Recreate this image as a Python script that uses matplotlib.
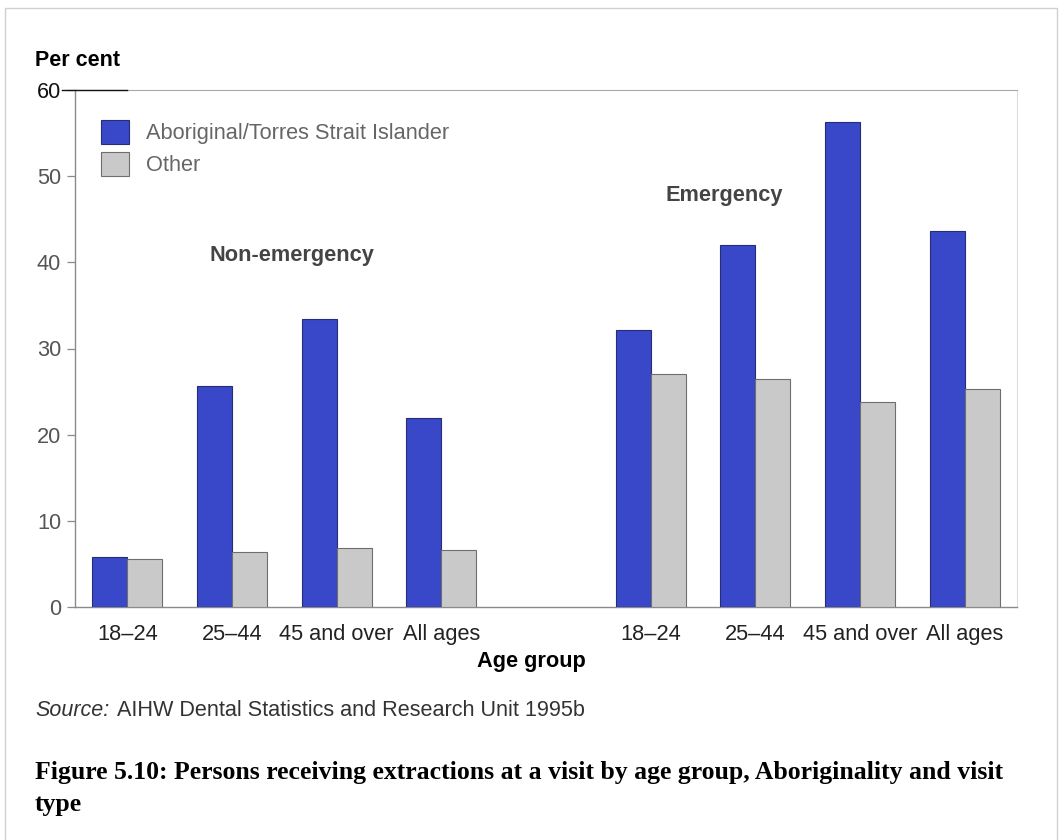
import numpy as np
import matplotlib.pyplot as plt
from matplotlib.patches import Rectangle

age_groups = ["18\u201324", "25\u201344", "45 and over", "All ages"]
visit_types = ["Non-emergency", "Emergency"]
aboriginal_non_emerg = [5.8, 25.7, 33.4, 21.9]
other_non_emerg = [5.6, 6.4, 6.8, 6.6]
aboriginal_emerg = [32.2, 42.0, 56.3, 43.6]
other_emerg = [27.0, 26.5, 23.8, 25.3]
series_names = ["Aboriginal/Torres Strait Islander", "Other"]
y_ticks = [0, 10, 20, 30, 40, 50, 60]

plt.rcParams['font.family'] = ['Liberation Sans', 'DejaVu Sans']

BLUE = '#3848c8'
BLUE_EDGE = '#262c78'
GREY = '#c9c9c9'
GREY_EDGE = '#6e6e6e'
AXIS_GREY = '#8a8a8a'
TEXT_GREY = '#555555'
FS = 15.7

W, H = 1062, 840
fig = plt.figure(figsize=(W / 100, H / 100), dpi=100)
ax = fig.add_axes([75 / W, 1 - 607 / H, (1017 - 75) / W, (607 - 90) / H])

# x positions: two blocks of four groups separated by an empty slot
pos_non = np.arange(4)
pos_emg = np.arange(4) + 5
w = 0.335

ab_all = aboriginal_non_emerg + aboriginal_emerg
ot_all = other_non_emerg + other_emerg
pos_all = np.concatenate([pos_non, pos_emg])

ax.bar(pos_all - w / 2, ab_all, width=w, color=BLUE, edgecolor=BLUE_EDGE,
       linewidth=0.8, label=series_names[0], zorder=3)
ax.bar(pos_all + w / 2, ot_all, width=w, color=GREY, edgecolor=GREY_EDGE,
       linewidth=0.8, label=series_names[1], zorder=3)

ax.set_xlim(-0.5, 8.5)
ax.set_ylim(0, 60)
ax.set_yticks(y_ticks)
ax.set_yticklabels([str(t) for t in y_ticks], fontsize=FS, color=TEXT_GREY)
ax.get_yticklabels()[-1].set_color('#111111')
ax.set_xticks(pos_all)
ax.set_xticklabels(age_groups * 2, fontsize=FS, color='#222222')
ax.tick_params(axis='x', length=0, pad=12)
ax.tick_params(axis='y', length=6, width=0.9, color=AXIS_GREY, pad=4)

for side in ['left', 'bottom']:
    ax.spines[side].set_color(AXIS_GREY)
    ax.spines[side].set_linewidth(1.0)
ax.spines['top'].set_color('#a8a8a8')
ax.spines['top'].set_linewidth(0.8)
ax.spines['right'].set_color('#dddddd')
ax.spines['right'].set_linewidth(0.8)

# dark lead-in on the top rule at 60
ax.plot([-0.62, 0.0], [60, 60], color='#111111', lw=1.0, clip_on=False, zorder=5)

fig.text(531 / W, 1 - 662 / H, "Age group", fontsize=FS, fontweight='bold',
         ha='center', va='center')
fig.text(35 / W, 1 - 60 / H, "Per cent", fontsize=15.5, fontweight='bold',
         va='center', ha='left')

ax.text(1.568, 40.85, visit_types[0], fontsize=FS, fontweight='bold',
        color='#444444', ha='center', va='center')
ax.text(5.705, 47.7, visit_types[1], fontsize=FS, fontweight='bold',
        color='#444444', ha='center', va='center')

leg = ax.legend(loc='upper left', bbox_to_anchor=(101 / W, 1 - 120 / H),
                bbox_transform=fig.transFigure, frameon=False,
                fontsize=FS, handlelength=1.3, handleheight=1.3,
                labelspacing=0.35, handletextpad=0.75,
                borderpad=0, borderaxespad=0)
for t in leg.get_texts():
    t.set_color('#666666')

# source line
fig.text(35 / W, 1 - 710 / H, "Source:", fontsize=15.5, style='italic',
         color='#333333', va='center', ha='left')
fig.text(117 / W, 1 - 710 / H, "AIHW Dental Statistics and Research Unit 1995b",
         fontsize=15.6, color='#333333', va='center', ha='left')

# figure caption
serif = ['Liberation Serif', 'DejaVu Serif']
fig.text(35 / W, 1 - 773 / H,
         "Figure 5.10: Persons receiving extractions at a visit by age group, Aboriginality and visit",
         fontsize=18.5, fontweight='bold', va='center', ha='left', family=serif)
fig.text(35 / W, 1 - 805 / H, "type", fontsize=18.5, fontweight='bold',
         va='center', ha='left', family=serif)

# light page border
fig.patches.append(Rectangle((5 / W, -0.01), (1057 - 5) / W, 1 - 8 / H + 0.01,
                             transform=fig.transFigure, fill=False,
                             edgecolor='#d0d0d0', linewidth=1.0))

fig.savefig("out.png", dpi=100)
